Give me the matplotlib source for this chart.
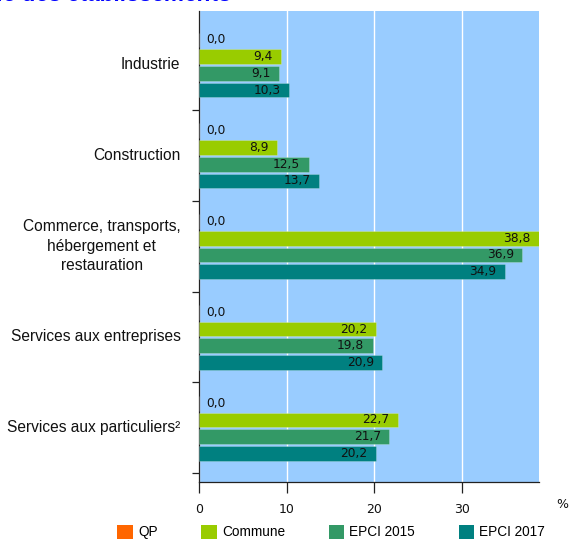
import matplotlib
matplotlib.use("Agg")
import matplotlib.pyplot as plt
from matplotlib.patches import Patch

categories = ["Industrie", "Construction", "Commerce, transports,\nhébergement et\nrestauration",
              "Services aux entreprises", "Services aux particuliers²"]
series_names = ["QP", "Commune", "EPCI 2015", "EPCI 2017"]
qp = [0.0, 0.0, 0.0, 0.0, 0.0]
commune = [9.4, 8.9, 38.8, 20.2, 22.7]
epci2015 = [9.1, 12.5, 36.9, 19.8, 21.7]
epci2017 = [10.3, 13.7, 34.9, 20.9, 20.2]
xticks = [0, 10, 20, 30]

colors = ["#FF6600", "#99CC00", "#339966", "#008080"]
series = [qp, commune, epci2015, epci2017]

fig = plt.figure(figsize=(5.69, 5.41), dpi=100)
ax = fig.add_axes([199/569, 1-482/541, 340/569, 471/541])
ax.set_facecolor("#99CCFF")

slot = 0.184
bh = 0.162
for j, (vals, col) in enumerate(zip(series, colors)):
    ys = [i + 0.505 + (j - 1.5) * slot for i in range(len(categories))]
    ax.barh(ys, vals, height=bh, color=col, edgecolor=(1, 1, 1, 0.25), linewidth=0.6, zorder=3)
    for y, v in zip(ys, vals):
        lab = f"{v:.1f}".replace(".", ",")
        if v < 2:
            ax.annotate(lab, (v, y), xytext=(5.5, 0), textcoords="offset points",
                        ha="left", va="center", fontsize=8.8, color="#111111",
                        family="DejaVu Sans", zorder=4)
        else:
            ax.annotate(lab, (v, y), xytext=(-6, 0), textcoords="offset points",
                        ha="right", va="center", fontsize=8.8, color="#111111",
                        family="DejaVu Sans", zorder=4)

ax.set_xlim(0, 38.8)
ax.set_ylim(5.097, -0.09)

ax.set_xticks(xticks)
ax.set_xticklabels([str(t) for t in xticks], fontsize=9, family="DejaVu Sans", color="#111111")
ax.tick_params(axis="x", length=7.6, width=0.9, color="#222222", pad=7.5)
ax.xaxis.grid(True, color="white", linewidth=1.0, zorder=1)
ax.set_axisbelow(True)

ax.set_yticks([1, 2, 3, 4, 5])
ax.set_yticklabels([])
ax.tick_params(axis="y", length=4.8, width=0.9, color="#222222")
for i, c in enumerate(categories):
    ax.text(-2.1, i + 0.5, c, ha="right", va="center", multialignment="center",
            fontsize=11.2, family="Liberation Sans", color="#111111", linespacing=1.38)

for s in ["top", "right"]:
    ax.spines[s].set_visible(False)
for s in ["left", "bottom"]:
    ax.spines[s].set_color("#222222")
    ax.spines[s].set_linewidth(0.9)

fig.text(562/569, 1-505/541, "%", ha="center", va="center", fontsize=9, family="DejaVu Sans", color="#111111")

fig.text(232/569, 1-1.5/541, "Répartition par secteur d'activité économique des établissements",
         ha="right", va="baseline", fontsize=16.3, family="Liberation Sans",
         fontweight="bold", fontstyle="italic", color="#0000FF")

handles = [Patch(facecolor=c, edgecolor="none") for c in colors]
fig.legend(handles, series_names, loc="center left", bbox_to_anchor=(117.3/569, 1-532/541),
           ncol=4, frameon=False, prop={"family": "Liberation Sans", "size": 9.8},
           handlelength=1.125, handleheight=1.3, handletextpad=0.4, columnspacing=3.2,
           borderpad=0, borderaxespad=0)

fig.savefig("out.png", dpi=100)
